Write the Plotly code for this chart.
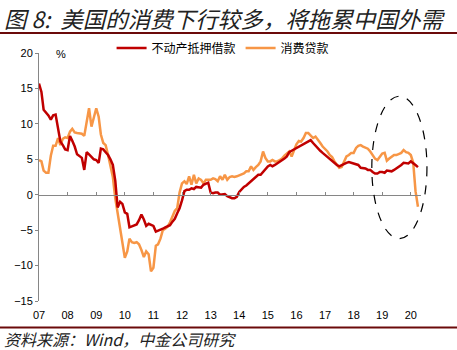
import pandas as pd
import plotly.graph_objects as go

# ---- data (monthly, YoY %, 2007-01 .. 2020-04) ----
start_month = "2007-01-01"
mortgage = [15.7, 14.5, 12.0, 11.6, 11.2, 10.6, 11.2, 11.3, 9.5, 7.5, 7.0, 6.4,
            6.3, 8.3, 7.6, 6.8, 5.7, 5.4, 5.2, 3.5, 6.0, 5.7, 5.3, 5.0,
            4.9, 4.5, 6.5, 6.4, 6.0, 5.6, 5.0, 4.2, 2.0, -1.8, -1.0, -1.3,
            -2.5, -2.7, -4.6, -4.5, -4.4, -4.2, -3.6, -2.8, -3.5, -4.4, -4.1, -4.2,
            -4.4, -5.2, -5.1, -5.0, -4.8, -4.6, -4.4, -4.3, -3.8, -3.4, -2.6, -1.9,
            -0.8, 0.5, 0.7, 0.7, 0.9, 0.8, 1.1, 1.0, 1.0, 1.4, 1.6, 1.7,
            0.3, 0.2, 0.3, 0.3, 0.0, 0.1, 0.1, -0.2, -0.4, -0.5, -0.5, -0.3,
            0.4, 0.8, 1.1, 1.3, 1.6, 1.9, 2.3, 2.6, 2.8, 2.8, 3.2, 3.6,
            4.0, 4.2, 4.0, 4.2, 4.4, 4.7, 4.9, 5.1, 5.4, 6.0, 6.2, 6.4,
            6.6, 6.8, 6.9, 7.1, 7.3, 7.5, 7.7, 7.3, 6.9, 6.5, 6.2, 5.9,
            5.6, 5.4, 5.1, 4.8, 4.5, 4.2, 4.0, 4.2, 4.3, 4.5, 4.6, 4.5,
            4.4, 4.2, 4.2, 3.8, 3.8, 3.7, 3.5, 3.5, 3.2, 3.0, 3.0, 3.2,
            3.2, 3.1, 3.4, 3.3, 3.3, 3.5, 3.7, 4.0, 4.2, 4.5, 4.4, 4.4,
            4.7, 4.5, 4.2, 3.9]
consumer = [4.9, 4.7, 3.4, 3.1, 3.1, 5.5, 6.9, 6.9, 8.0, 7.0, 7.9, 8.1,
            8.0, 8.9, 9.3, 8.8, 8.7, 8.6, 8.6, 8.3, 10.5, 12.2, 9.6, 10.8,
            12.2, 11.0, 8.5, 7.3, 7.0, 5.6, 4.0, 2.5, -0.5, -2.7, -4.7, -7.0,
            -8.9, -8.0, -6.2, -6.7, -6.8, -6.7, -7.0, -7.8, -8.8, -8.0, -8.4, -10.8,
            -10.3, -7.2, -7.0, -6.2, -5.0, -4.8, -4.5, -3.9, -3.0, -2.3, -1.9, 0.3,
            1.6, 1.9, 1.5, 2.6, 1.4, 2.8, 1.6, 2.3, 2.1, 1.6, 2.1, 2.1,
            2.1, 2.3, 2.2, 1.9, 2.6, 2.1, 2.8, 2.1, 2.5, 2.6, 2.5, 2.6,
            2.7, 2.8, 3.0, 3.3, 3.3, 4.0, 3.5, 3.9, 4.2, 4.7, 6.1, 5.2,
            4.7, 4.7, 4.9, 4.7, 4.7, 4.9, 5.1, 5.5, 5.8, 6.1, 5.4, 6.3,
            7.1, 7.6, 7.5, 8.0, 8.7, 8.7, 8.4, 8.0, 8.2, 7.8, 7.3, 6.8,
            6.5, 6.1, 5.6, 5.3, 4.7, 4.2, 3.8, 3.9, 4.6, 5.4, 5.6, 5.9,
            5.9, 6.6, 6.9, 7.0, 6.8, 6.7, 6.5, 6.1, 5.6, 5.1, 4.9, 5.4,
            5.8, 5.9, 4.8, 5.1, 5.4, 5.6, 5.6, 5.7, 5.9, 6.3, 6.0, 5.9,
            5.6, 4.5, 0.5, -1.7]
series_names = ["不动产抵押借款", "消费贷款"]
tick_years = list(range(2007, 2021))
tick_text = [f"{y % 100:02d}" for y in tick_years]
y_ticks = [-15, -10, -5, 0, 5, 10, 15, 20]

dates = pd.date_range(start_month, periods=len(mortgage), freq="MS")
x_start = pd.Timestamp("2007-01-01")
x_end = pd.Timestamp("2020-05-10")
ellipse_x = (pd.Timestamp("2018-08-21"), pd.Timestamp("2020-07-25"))
ellipse_y = (-6.2, 13.9)


def to_paper(ts):
    return (ts - x_start) / (x_end - x_start)


RED = "#C00000"
ORANGE = "#F79646"
AXIS = "#868686"
RULE = "#6B0A0A"
CJK = "Noto Sans CJK SC"
LAT = "Liberation Sans, Arial, sans-serif"

fig = go.Figure()
fig.add_trace(go.Scatter(x=dates, y=mortgage, name=series_names[0], mode="lines",
                         line=dict(color=RED, width=2.5), xaxis="x2"))
fig.add_trace(go.Scatter(x=dates, y=consumer, name=series_names[1], mode="lines",
                         line=dict(color=ORANGE, width=2.5)))

tickvals = [pd.Timestamp(f"{y}-01-01") for y in tick_years]

fig.update_layout(
    width=457, height=350,
    margin=dict(l=39, r=36, t=53, b=48.5, pad=0),
    paper_bgcolor="white", plot_bgcolor="white",
    showlegend=True,
    legend=dict(orientation="h", x=0.19, xanchor="left", y=1.02, yanchor="middle",
                font=dict(family=CJK, size=12, color="#000"),
                bgcolor="rgba(0,0,0,0)", itemwidth=30, tracegroupgap=0),
    xaxis=dict(type="date", range=[x_start, x_end], showgrid=False, zeroline=False,
               showline=False, ticks="", tickvals=tickvals, ticktext=tick_text,
               tickfont=dict(family=LAT, size=11, color="#000"),
               ticklabelstandoff=6),
    xaxis2=dict(type="date", range=[x_start, x_end], overlaying="x", anchor="free",
                position=15 / 35, side="bottom", showgrid=False, zeroline=False,
                showline=True, linecolor=AXIS, linewidth=1, ticks="inside",
                ticklen=3, tickcolor=AXIS, tickvals=tickvals, showticklabels=False),
    yaxis=dict(range=[-15, 20], tickvals=y_ticks, showgrid=False, zeroline=False,
               showline=True, linecolor=AXIS, linewidth=1, ticks="outside",
               ticklen=3, tickcolor=AXIS,
               tickfont=dict(family=LAT, size=11, color="#000")),
    font=dict(family=LAT),
)

# title, rules, source text, unit
fig.add_annotation(xref="paper", yref="paper", x=-37 / 382, y=1 + (53 - 18) / 248.5,
                   xanchor="left", yanchor="middle", showarrow=False,
                   text="图 8:&nbsp;&nbsp;美国的消费下行较多，将拖累中国外需",
                   font=dict(family=CJK, size=22.5, color="#222", style="italic"))
fig.add_annotation(xref="paper", yref="paper", x=-37 / 382, y=-(340 - 301.5) / 248.5,
                   xanchor="left", yanchor="middle", showarrow=False,
                   text="资料来源：Wind，中金公司研究",
                   font=dict(family=CJK, size=16, color="#222", style="italic"))
fig.add_annotation(xref="paper", yref="paper", x=(61 - 39) / 382, y=1 - (54 - 53) / 248.5,
                   xanchor="center", yanchor="middle", showarrow=False, text="%",
                   font=dict(family=LAT, size=11, color="#000"))
for yy in (33, 328):
    fig.add_shape(type="line", xref="paper", yref="paper",
                  x0=-39 / 382, x1=(457 - 39) / 382,
                  y0=(301.5 - yy) / 248.5, y1=(301.5 - yy) / 248.5,
                  line=dict(color=RULE, width=2))

fig.add_shape(type="circle", xref="paper", yref="y",
              x0=to_paper(ellipse_x[0]), x1=to_paper(ellipse_x[1]),
              y0=ellipse_y[0], y1=ellipse_y[1],
              line=dict(color="#000", width=1.2, dash="dash"))

fig.write_html("out.html")
